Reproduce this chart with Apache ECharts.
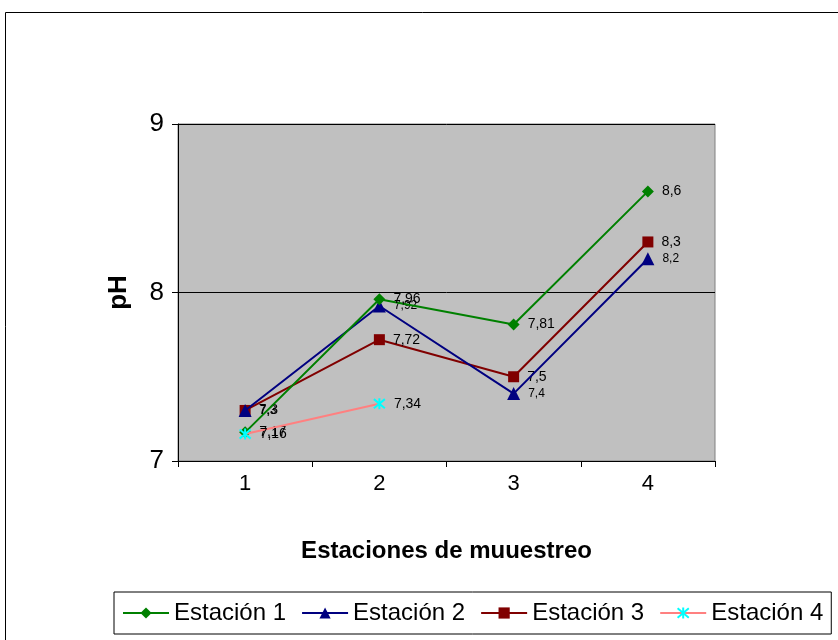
<!DOCTYPE html>
<html><head><meta charset="utf-8">
<script src="https://cdn.jsdelivr.net/npm/echarts@6/dist/echarts.min.js"></script>
<style>html,body{margin:0;padding:0;background:#fff}#c{width:838px;height:640px}</style>
</head><body><div id="c"></div>
<script>
var categories = ['1','2','3','4'];
var est1 = [7.17, 7.96, 7.81, 8.6];
var est2 = [7.3, 7.92, 7.4, 8.2];
var est3 = [7.3, 7.72, 7.5, 8.3];
var est4 = [7.16, 7.34, null, null];
var seriesNames = ['Estación 1','Estación 2','Estación 3','Estación 4'];

var chart = echarts.init(document.getElementById('c'));
function fmt(p){ return p.value == null ? '' : String(p.value).replace('.', ','); }
function lab(size){ return {show:true, position:'right', distance:8, formatter:fmt, fontFamily:'Arial, Liberation Sans', fontSize:size, color:'#000'}; }
var star = 'path://M0,0L10,10M10,0L0,10M5,-1L5,11';
chart.setOption({
  animation:false,
  textStyle:{fontFamily:'Arial, Liberation Sans'},
  graphic:[{type:'rect', shape:{x:5.5,y:12.5,width:900,height:700}, style:{fill:'none', stroke:'#000', lineWidth:1}, z:-10}],
  grid:{left:178, top:124, width:537, height:337, backgroundColor:'#c0c0c0', borderColor:'#808080', borderWidth:1, show:true},
  legend:{left:114, top:592, padding:[9,8,9,8], itemGap:15, itemWidth:46, itemHeight:14,
    borderColor:'#000', borderWidth:1, backgroundColor:'#fff',
    textStyle:{fontSize:24, color:'#000', fontFamily:'Arial, Liberation Sans'}, data:seriesNames},
  xAxis:{type:'category', data:categories, boundaryGap:true,
    axisLine:{lineStyle:{color:'#000'}}, axisTick:{show:true, length:6, lineStyle:{color:'#000'}},
    axisLabel:{fontSize:22, color:'#000', margin:12},
    name:'Estaciones de muuestreo', nameLocation:'middle', nameGap:78,
    nameTextStyle:{fontSize:24, fontWeight:'bold', color:'#000'}},
  yAxis:{type:'value', min:7, max:9, interval:1,
    axisLine:{show:true, lineStyle:{color:'#000'}}, axisTick:{show:true, length:6, lineStyle:{color:'#000'}},
    splitLine:{show:true, lineStyle:{color:'#000', width:1}},
    axisLabel:{fontSize:26, color:'#000', margin:14},
    name:'pH', nameLocation:'middle', nameGap:46, nameRotate:90,
    nameTextStyle:{fontSize:26, fontWeight:'bold', color:'#000'}},
  series:[
    {name:seriesNames[0], type:'line', data:est1, symbol:'diamond', symbolSize:12,
      lineStyle:{color:'#008000', width:2}, itemStyle:{color:'#008000'}, label:lab(14), z:4},
    {name:seriesNames[1], type:'line', data:est2, symbol:'triangle', symbolSize:13,
      lineStyle:{color:'#000080', width:2}, itemStyle:{color:'#000080'}, label:lab(12), z:3},
    {name:seriesNames[2], type:'line', data:est3, symbol:'rect', symbolSize:11,
      lineStyle:{color:'#800000', width:2}, itemStyle:{color:'#800000'}, label:lab(14), z:2},
    {name:seriesNames[3], type:'line', data:est4, symbol:star, symbolSize:11,
      lineStyle:{color:'#ff8080', width:2}, itemStyle:{color:'rgba(0,0,0,0)', borderColor:'#00ffff', borderWidth:2}, label:lab(14), z:5}
  ]
});
</script></body></html>
